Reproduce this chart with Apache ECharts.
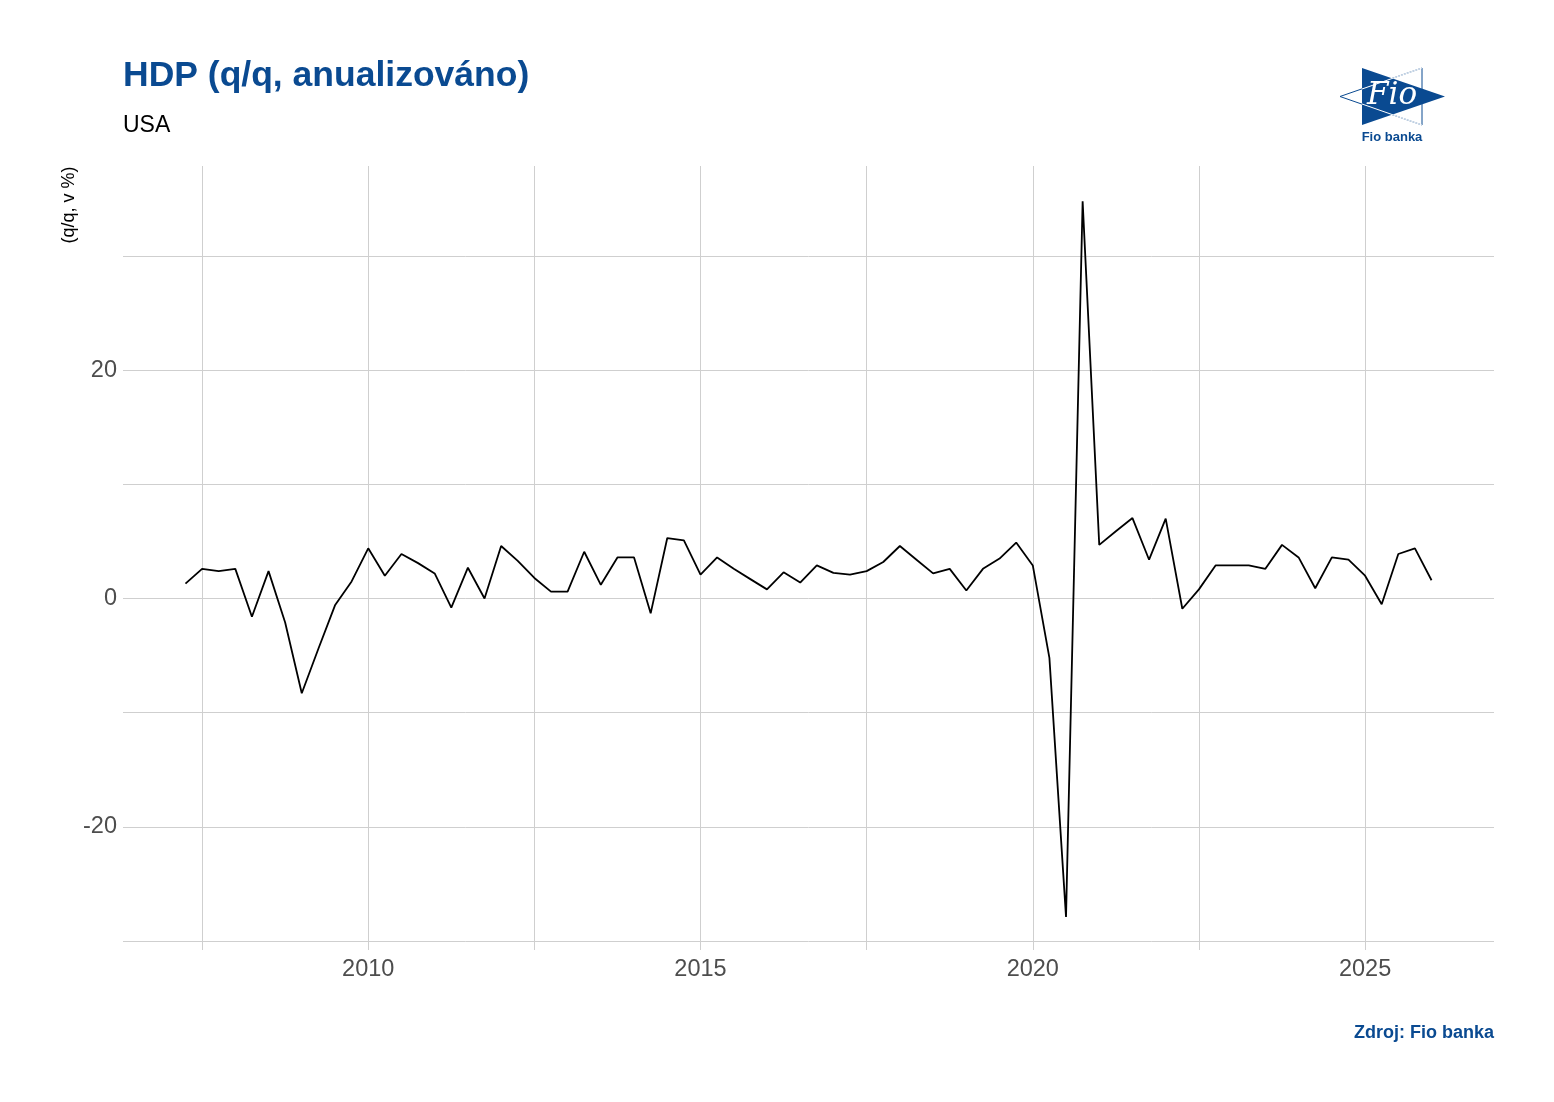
<!DOCTYPE html>
<html>
<head>
<meta charset="utf-8">
<script src="https://cdn.jsdelivr.net/npm/echarts@6/dist/echarts.min.js"></script>
<style>
  html, body { margin: 0; padding: 0; background: #fff; }
  #chart { width: 1554px; height: 1102px; }
</style>
</head>
<body>
<div id="chart"></div>
<script>
// ctvrtleti 2007Q1 .. 2025Q4 (bod je na konci ctvrtleti)
const firstYear = 2007;
const lastYear = 2025;
// HDP q/q anualizovano, v %
const gdpValues = [
  1.3, 2.6, 2.4, 2.6,      // 2007
  -1.6, 2.4, -2.1, -8.3,   // 2008
  -4.4, -0.6, 1.5, 4.4,    // 2009
  2.0, 3.9, 3.1, 2.2,      // 2010
  -0.8, 2.7, 0.0, 4.6,     // 2011
  3.3, 1.8, 0.6, 0.6,      // 2012
  4.1, 1.2, 3.6, 3.6,      // 2013
  -1.3, 5.3, 5.1, 2.1,     // 2014
  3.6, 2.6, 1.7, 0.8,      // 2015
  2.3, 1.4, 2.9, 2.25,     // 2016
  2.1, 2.4, 3.2, 4.6,      // 2017
  3.4, 2.2, 2.6, 0.7,      // 2018
  2.6, 3.5, 4.9, 2.9,      // 2019
  -5.2, -27.9, 34.8, 4.7,  // 2020
  5.9, 7.05, 3.4, 7.0,     // 2021
  -0.9, 0.8, 2.9, 2.9,     // 2022
  2.9, 2.6, 4.7, 3.6,      // 2023
  0.9, 3.6, 3.4, 2.0,      // 2024
  -0.5, 3.9, 4.4, 1.6      // 2025
];
const xLabelYears = [2010, 2015, 2020, 2025];
const xGridYears = [2007.5, 2010, 2012.5, 2015, 2017.5, 2020, 2022.5, 2025];
const yLabelValues = [-20, 0, 20];
const yGridValues = [-30, -20, -10, 0, 10, 20, 30];

const blue = '#0a4a91';
const font = '"Liberation Sans", Arial, sans-serif';

// pozice ctvrtleti na ose x (konec ctvrtleti)
let quarters = [];
for (let y = firstYear; y <= lastYear; y++) {
  for (let q = 1; q <= 4; q++) quarters.push(y + q / 4);
}
const seriesData = gdpValues.map((v, i) => [quarters[i], v]);

const chart = echarts.init(document.getElementById('chart'));
chart.setOption({
  animation: false,
  backgroundColor: '#fff',
  title: {
    left: 118,
    top: 53,
    text: 'HDP (q/q, anualizováno)',
    subtext: 'USA',
    itemGap: 20,
    textStyle: { fontFamily: font, fontSize: 35.5, fontWeight: 'bold', color: blue },
    subtextStyle: { fontFamily: font, fontSize: 23, color: '#000' }
  },
  grid: { left: 123, right: 60, top: 166, bottom: 152, containLabel: false },
  xAxis: {
    type: 'value',
    min: 2006.31,
    max: 2026.94,
    axisLine: { show: false },
    axisTick: { show: false, customValues: xGridYears },
    axisLabel: {
      customValues: xLabelYears,
      margin: 8,
      fontFamily: font,
      fontSize: 23.5,
      color: '#4d4d4d',
      formatter: v => String(v)
    },
    splitLine: { show: true, lineStyle: { color: '#cfcfcf', width: 1 } }
  },
  yAxis: {
    type: 'value',
    min: -30.8,
    max: 37.9,
    axisLine: { show: false },
    axisTick: { show: false, customValues: yGridValues },
    axisLabel: {
      customValues: yLabelValues,
      margin: 6,
      fontFamily: font,
      fontSize: 23.5,
      color: '#4d4d4d'
    },
    splitLine: { show: true, lineStyle: { color: '#cfcfcf', width: 1 } }
  },
  series: [{
    type: 'line',
    data: seriesData,
    showSymbol: false,
    lineStyle: { color: '#000', width: 1.8 },
    emphasis: { disabled: true }
  }],
  graphic: [
    // popisek osy y
    {
      type: 'text',
      x: 69, y: 205,
      rotation: Math.PI / 2,
      style: { text: '(q/q, v %)', font: '18px ' + font, fill: '#000', align: 'center', verticalAlign: 'middle' }
    },
    // zdroj
    {
      type: 'text',
      x: 1494, y: 1033,
      style: { text: 'Zdroj: Fio banka', font: 'bold 18px ' + font, fill: blue, align: 'right', verticalAlign: 'middle' }
    },
    // logo Fio banka
    {
      type: 'polygon',
      shape: { points: [[1362, 68], [1362, 125], [1445, 96.5]] },
      style: { fill: blue }
    },
    {
      type: 'polyline',
      shape: { points: [[1422, 68], [1340, 96.5], [1422, 125], [1422, 68]] },
      style: { stroke: blue, fill: null, lineWidth: 1 }
    },
    {
      type: 'polyline',
      shape: { points: [[1422, 68], [1362, 89]] },
      style: { stroke: '#fff', lineWidth: 1 }
    },
    {
      type: 'polyline',
      shape: { points: [[1422, 125], [1362, 104]] },
      style: { stroke: '#fff', lineWidth: 1 }
    },
    {
      type: 'text',
      x: 1392, y: 96,
      style: { text: 'Fio', font: 'italic 31px "DejaVu Serif", "Liberation Serif", serif', fill: '#fff', align: 'center', verticalAlign: 'middle' }
    },
    {
      type: 'text',
      x: 1392, y: 137,
      style: { text: 'Fio banka', font: 'bold 13px ' + font, fill: blue, align: 'center', verticalAlign: 'middle' }
    }
  ]
});
</script>
</body>
</html>
